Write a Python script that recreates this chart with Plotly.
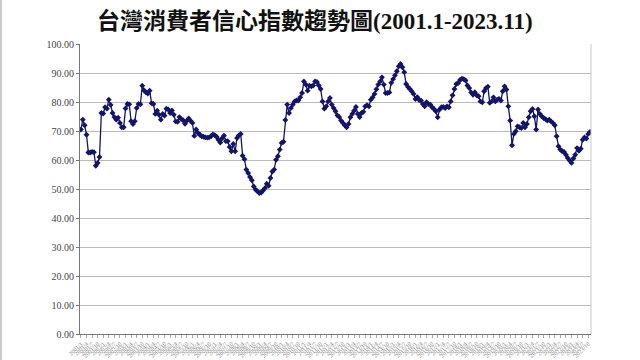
import plotly.graph_objects as go

# Taiwan consumer confidence index, monthly 2001.1 - 2023.11
cci_2001_2005 = [
    70.5, 73.9, 72.0, 68.7, 62.6, 62.6, 62.8, 62.7, 58.0, 59.0,
    61.0, 76.2, 76.0, 78.2, 77.7, 80.8, 79.0, 76.2, 74.8, 73.9,
    74.6, 72.8, 71.3, 71.3, 77.8, 79.3, 79.2, 73.4, 72.4, 73.4,
    77.9, 79.3, 79.2, 85.6, 84.0, 83.3, 82.9, 83.9, 79.6, 79.3,
    75.9, 77.0, 75.6, 73.9, 75.9, 75.3, 77.7, 77.4, 76.2, 77.1,
    75.6, 73.3, 73.2, 74.8,
]
cci_2005_2010 = [
    74.1, 73.7, 72.5, 73.5, 74.3, 73.5, 72.8, 68.3, 70.5, 69.3,
    68.7, 68.2, 68.0, 67.8, 67.7, 67.8, 68.2, 68.8, 68.6, 68.0,
    67.0, 66.0, 67.5, 68.4, 66.5, 66.5, 64.5, 63.0, 65.5, 63.0,
    67.6, 68.5, 69.0, 61.5, 60.3, 56.7, 55.5, 54.1, 53.0, 50.9,
    49.8, 49.2, 48.6, 48.8, 49.5, 50.3, 51.8, 51.1, 53.8, 56.0,
    56.7, 60.1, 61.3, 63.6, 65.9, 66.3,
]
cci_2010_2014 = [
    73.8, 79.1, 76.2, 77.9, 79.1, 80.2, 80.5, 80.5, 81.6, 83.1,
    87.1, 86.0, 83.9, 85.6, 85.4, 85.7, 87.1, 86.9, 85.7, 84.5,
    80.2, 77.7, 78.5, 80.2, 81.4, 79.1, 77.9, 76.8, 75.4, 74.8,
    73.6, 72.8, 72.0, 71.3, 72.4, 74.7, 75.9, 77.0, 78.3, 75.9,
    74.8, 76.2, 76.6, 78.5, 78.9, 78.5, 80.8, 81.6, 82.8, 84.4,
    86.0, 87.1, 88.5,
]
cci_2014_2019 = [
    86.0, 83.1, 83.1, 83.3, 86.6, 87.9, 89.2, 90.6, 92.3, 93.1,
    92.0, 90.3, 86.2, 85.2, 84.5, 83.7, 82.8, 81.0, 81.7, 80.7,
    80.5, 79.3, 78.5, 79.9, 79.3, 79.1, 78.2, 77.6, 76.8, 74.7,
    77.4, 78.2, 78.3, 77.9, 78.5, 78.2, 80.2, 82.3, 84.5, 86.2,
    86.5, 87.6, 88.0, 87.9, 87.4, 85.7, 84.8, 83.3, 82.5, 83.4,
    82.3, 82.0, 80.2, 79.9, 83.7, 84.8, 85.3,
]
cci_2019_2023 = [
    79.7, 80.2, 81.6, 80.2, 80.8, 81.1, 80.5, 83.7, 85.4, 84.3,
    78.5, 73.6, 65.1, 69.0, 69.9, 71.6, 71.3, 71.0, 72.8, 71.3,
    72.4, 74.7, 76.8, 77.6, 75.1, 70.5, 77.4, 75.9, 75.1, 74.5,
    74.1, 73.6, 73.9, 73.3, 72.8, 72.0, 68.2, 64.7, 63.6, 63.0,
    62.8, 61.8, 60.7, 59.8, 59.0, 60.5, 61.8, 64.1, 63.2, 63.9,
    67.0, 67.8, 67.4, 69.0, 69.7,
]
cci = cci_2001_2005 + cci_2005_2010 + cci_2010_2014 + cci_2014_2019 + cci_2019_2023

years = list(range(2001, 2024))
months = list(range(1, 13))
month_labels = [f"{y}/{m}" for y in years for m in months][:len(cci)]

y_ticks = [0, 10, 20, 30, 40, 50, 60, 70, 80, 90, 100]
y_tick_text = [f"{v:.2f}" for v in y_ticks]

title_text = "<b>台灣消費者信心指數趨勢圖(2001.1-2023.11)</b>"

fig = go.Figure()
fig.add_trace(go.Scatter(
    x=month_labels, y=cci, mode="lines+markers",
    line=dict(color="#141466", width=1.3),
    marker=dict(symbol="diamond", size=4.5, color="#141466"),
    showlegend=False, hoverinfo="skip",
))

fig.update_layout(
    width=640, height=360,
    margin=dict(l=80, r=49, t=44, b=26),
    paper_bgcolor="white", plot_bgcolor="white",
    title=dict(text=title_text, x=0.492, xanchor="center", y=0.943, yanchor="middle",
               font=dict(family="Liberation Serif, Noto Sans CJK TC", size=23, color="#111")),
    xaxis=dict(
        type="category", range=[-0.5, len(cci) - 0.5],
        tickmode="linear", tick0=0, dtick=3,
        tickangle=-45, tickfont=dict(family="Liberation Serif", size=6, color="#888"),
        ticks="outside", ticklen=3, tickcolor="#aaa",
        showline=True, linecolor="#777", linewidth=1,
        showgrid=False, automargin=False, fixedrange=True,
    ),
    yaxis=dict(
        range=[0, 100], tickmode="array", tickvals=y_ticks, ticktext=y_tick_text,
        tickfont=dict(family="Liberation Serif", size=10, color="#444"),
        ticks="outside", ticklen=3, tickcolor="#777",
        showline=True, linecolor="#777", linewidth=1,
        showgrid=True, gridcolor="#bbbbbb", gridwidth=1,
        zeroline=False, automargin=False, fixedrange=True,
    ),
    shapes=[
        dict(type="line", xref="paper", yref="paper", x0=1, x1=1, y0=0, y1=1,
             line=dict(color="#c8c8c8", width=1)),
        dict(type="line", xref="paper", yref="paper", x0=-79/511, x1=-79/511,
             y0=-26/290, y1=1 + 44/290, line=dict(color="#cccccc", width=2)),
    ],
)

fig.write_html("out.html")
